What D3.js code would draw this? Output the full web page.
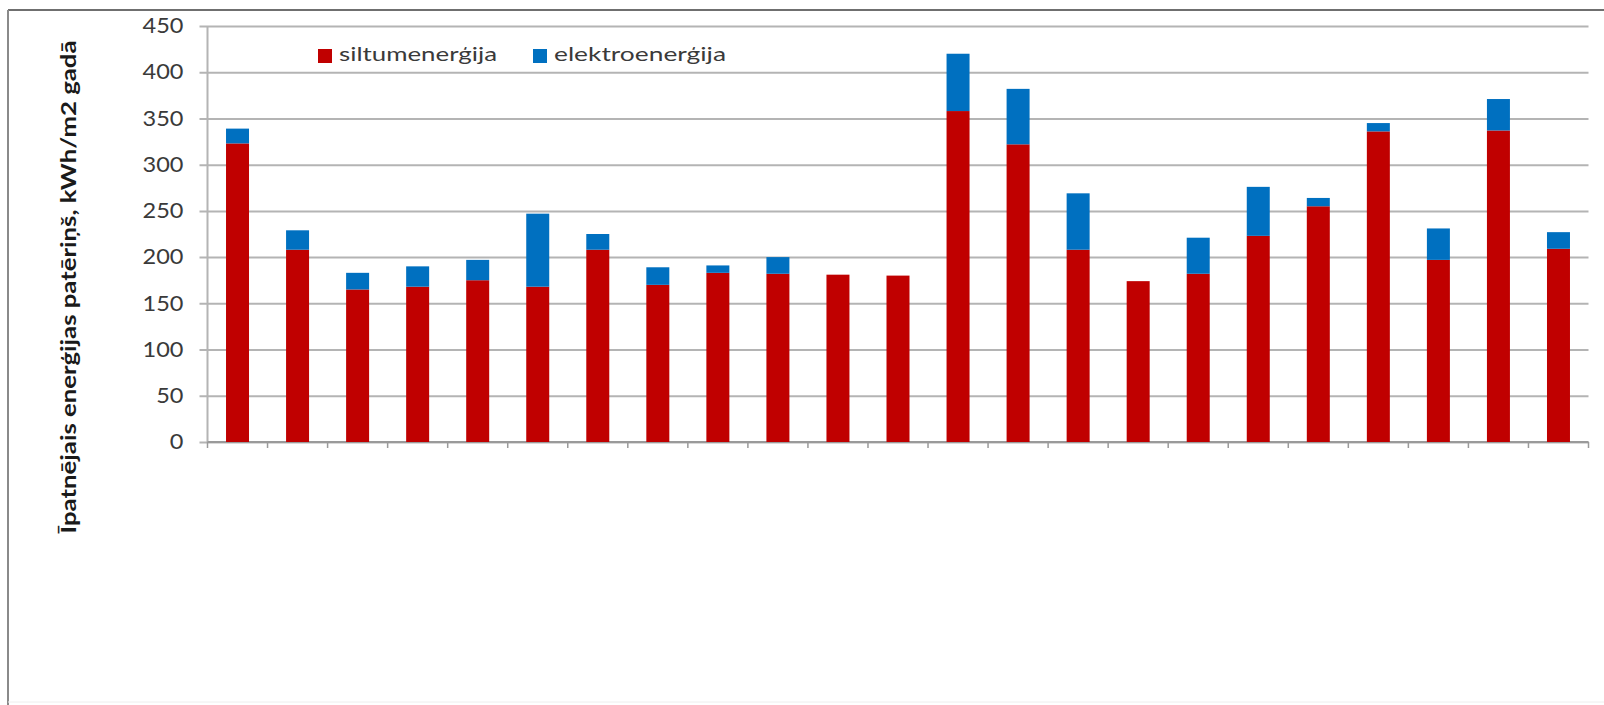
<!DOCTYPE html>
<html>
<head>
<meta charset="utf-8">
<script src="https://cdn.jsdelivr.net/npm/d3@7"></script>
<style>
  html, body { margin: 0; padding: 0; background: #fff; }
  svg { display: block; }
  text { font-family: Lato, "Open Sans", sans-serif; }
</style>
</head>
<body>
<svg id="chart" width="1604" height="705"></svg>
<script>
// Buildings (category labels are not shown on the axis)
const categories = ["1","2","3","4","5","6","7","8","9","10","11","12",
                    "13","14","15","16","17","18","19","20","21","22","23"];
// Specific heat energy consumption, kWh/m2 per year
const siltumenergija = [323, 208, 165, 168, 175, 168, 208, 170, 183, 182, 181, 180,
                        358, 322, 208, 174, 182, 223, 255, 336, 197, 337, 209];
// Specific electricity consumption, kWh/m2 per year
const elektroenergija = [16, 21, 18, 22, 22, 79, 17, 19, 8, 18, 0, 0,
                         62, 60, 61, 0, 39, 53, 9, 9, 34, 34, 18];
const seriesNames = ["siltumenerģija", "elektroenerģija"];
const seriesColors = ["#C00000", "#0070C0"];
const yTicks = [0, 50, 100, 150, 200, 250, 300, 350, 400, 450];
const yTitle = "Īpatnējais enerģijas patēriņš, kWh/m2 gadā";

const svg = d3.select("#chart");
const W = 1604, H = 705;
const plot = { left: 207.5, right: 1588.5, top: 26, bottom: 442 };

// Frame around the chart object
svg.append("line").attr("x1", 8).attr("x2", W).attr("y1", 10).attr("y2", 10)
  .attr("stroke", "#6f6f6f").attr("stroke-width", 2);
svg.append("line").attr("x1", 8).attr("x2", 8).attr("y1", 10).attr("y2", H)
  .attr("stroke", "#8a8a8a").attr("stroke-width", 2);
svg.append("line").attr("x1", 8).attr("x2", W).attr("y1", 702).attr("y2", 702)
  .attr("stroke", "#eeeeee").attr("stroke-width", 1);

const x = d3.scaleBand()
  .domain(categories)
  .range([plot.left, plot.right])
  .paddingInner(0.617)
  .paddingOuter(0.3085);

const y = d3.scaleLinear().domain([0, 450]).range([plot.bottom, plot.top]);

// Horizontal gridlines with tick labels
const yAxis = d3.axisLeft(y)
  .tickValues(yTicks)
  .tickSize(-(plot.right - plot.left) - 8)
  .tickPadding(16)
  .tickFormat(d3.format("d"));

const gy = svg.append("g")
  .attr("transform", `translate(${plot.right},0)`)
  .call(yAxis);
gy.select(".domain").remove();
gy.selectAll(".tick line")
  .attr("x1", 0).attr("x2", -(plot.right - plot.left) - 8)
  .attr("stroke", "#b4b4b4").attr("stroke-width", 2);
gy.selectAll(".tick text")
  .attr("x", -(plot.right - plot.left) - 24)
  .attr("fill", "#3a3a3a")
  .style("font-size", "21px")
  .style("font-family", "Lato, sans-serif");

// Vertical axis line
svg.append("line")
  .attr("x1", plot.left).attr("x2", plot.left)
  .attr("y1", plot.top).attr("y2", plot.bottom)
  .attr("stroke", "#b4b4b4").attr("stroke-width", 2);

// Category axis with tick marks between the bars
const xAxisLine = svg.append("g");
xAxisLine.append("line")
  .attr("x1", plot.left).attr("x2", plot.right)
  .attr("y1", plot.bottom).attr("y2", plot.bottom)
  .attr("stroke", "#9a9a9a").attr("stroke-width", 2);
const boundaries = categories.map(c => x(c) - x.step() * x.paddingInner() / 2);
boundaries.push(plot.right);
xAxisLine.selectAll("line.tk").data(boundaries).join("line")
  .attr("class", "tk")
  .attr("x1", d => d).attr("x2", d => d)
  .attr("y1", plot.bottom).attr("y2", plot.bottom + 6)
  .attr("stroke", "#9a9a9a").attr("stroke-width", 1.5);

// Stacked bars
const rows = categories.map((c, i) => ({
  cat: c,
  [seriesNames[0]]: siltumenergija[i],
  [seriesNames[1]]: elektroenergija[i]
}));
const stacked = d3.stack().keys(seriesNames)(rows);

svg.append("g").selectAll("g")
  .data(stacked).join("g")
  .attr("fill", (d, i) => seriesColors[i])
  .selectAll("rect")
  .data(d => d).join("rect")
  .attr("x", d => x(d.data.cat))
  .attr("width", x.bandwidth())
  .attr("y", d => y(d[1]))
  .attr("height", d => y(d[0]) - y(d[1]));

// Legend
const legendX = [318, 533];
const legendW = [158, 172];
const lg = svg.append("g");
seriesNames.forEach((name, i) => {
  lg.append("rect")
    .attr("x", legendX[i]).attr("y", 49)
    .attr("width", 14).attr("height", 14)
    .attr("fill", seriesColors[i]);
  lg.append("text")
    .attr("x", legendX[i] + 21).attr("y", 61)
    .attr("fill", "#3a3a3a")
    .style("font-size", "20px")
    .attr("textLength", legendW[i])
    .attr("lengthAdjust", "spacingAndGlyphs")
    .text(name);
});

// Vertical axis title
svg.append("text")
  .attr("transform", "translate(76,287) rotate(-90)")
  .attr("text-anchor", "middle")
  .attr("fill", "#1a1a1a")
  .style("font-size", "20px")
  .style("font-weight", "bold")
  .attr("textLength", 493)
  .attr("lengthAdjust", "spacingAndGlyphs")
  .text(yTitle);

// Widen the tick labels slightly to match the chart's lettering
gy.selectAll(".tick text").each(function () {
  const w = this.getComputedTextLength();
  d3.select(this).attr("textLength", w * 1.12).attr("lengthAdjust", "spacingAndGlyphs");
});
</script>
</body>
</html>
